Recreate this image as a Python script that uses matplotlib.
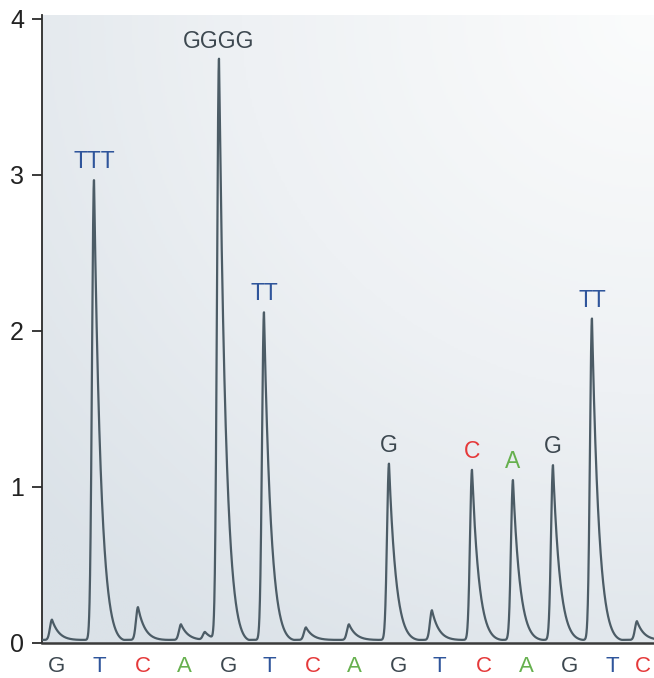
import numpy as np
import matplotlib
matplotlib.use("Agg")
import matplotlib.pyplot as plt
from matplotlib.colors import LinearSegmentedColormap

plt.rcParams['font.family'] = ['Liberation Sans', 'DejaVu Sans']

# ---- data ----
# dispensation order (x tick labels) and their times (arbitrary time units)
disp_letters = ["G", "T", "C", "A", "G", "T", "C", "A", "G", "T", "C", "A", "G", "T", "C"]
disp_times = [0.35, 1.34, 2.38, 3.34, 4.38, 5.36, 6.38, 7.34, 8.38, 9.36,
              10.40, 11.39, 12.42, 13.41, 14.14]

# peak times and peak signal heights
peak_times = [0.235, 1.224, 2.259, 3.271, 3.835, 4.165, 5.224, 6.212, 7.224,
              8.165, 9.176, 10.118, 11.082, 12.024, 12.941, 14.0]
peak_heights = [0.15, 2.97, 0.23, 0.12, 0.07, 3.74, 2.12, 0.10, 0.12,
                1.15, 0.21, 1.11, 1.045, 1.14, 2.08, 0.14]
baseline = 0.02

# peak annotations: (index into peaks, text)
annot_peaks = [1, 5, 6, 9, 11, 12, 13, 14]
annot_texts = ["TTT", "GGGG", "TT", "G", "C", "A", "G", "TT"]

base_colors = {"G": "#3d4850", "T": "#2f559b", "C": "#e5393a", "A": "#66b04e"}

# ---- figure ----
W, H = 654, 678
fig = plt.figure(figsize=(W / 100, H / 100), dpi=100)
px = 42.5  # pixels per time unit
left, right, top, bottom = 42, 654, 15, 643
ax = fig.add_axes([left / W, (H - bottom) / H, (right - left) / W, (bottom - top) / H])
xmax = (right - left) / px
ymax = (bottom - top) / 156.0
ax.set_xlim(0, xmax)
ax.set_ylim(0, ymax)

# background gradient (light at top-right, bluish-grey towards bottom-left)
gx, gy = np.meshgrid(np.linspace(0, 1, 300), np.linspace(0, 1, 300))
dist = np.sqrt((1 - gx) ** 2 * 0.8 + (1 - gy) ** 2 * 1.0) / np.sqrt(1.8)
cmap = LinearSegmentedColormap.from_list("bg", ["#fbfcfc", "#eef1f4", "#dbe2e8"])
ax.imshow(dist, origin="lower", extent=[0, xmax, 0, ymax], aspect="auto",
          cmap=cmap, vmin=0, vmax=0.9, zorder=0)

# trace built from peaks: steep rise, decaying tail
t = np.linspace(0, xmax, 6000)
y = np.full_like(t, baseline)
sig = 2.0 / px
tau = 10.0 / px
wid = 30.0 / px
for tp, h in zip(peak_times, peak_heights):
    s = t - tp
    rise = np.exp(-0.5 * (s / sig) ** 2)
    fall = np.exp(-np.clip(s, 0, None) / tau) * np.clip(1 - s / wid, 0, None) ** 1.3
    shape = np.where(s < 0, rise, fall)
    y += (h - baseline) * shape
ax.plot(t, y, color="#4c5c66", lw=1.6, zorder=3)

# annotations over peaks
for idx, txt in zip(annot_peaks, annot_texts):
    ax.annotate(txt, xy=(peak_times[idx], peak_heights[idx]), xytext=(0, 5),
                textcoords="offset points", ha="center", va="bottom",
                fontsize=16.5, color=base_colors[txt[0]], zorder=4)

# axes styling
for sp in ["top", "right"]:
    ax.spines[sp].set_visible(False)
ax.spines["left"].set_color("#2b2b2b")
ax.spines["left"].set_linewidth(1.3)
ax.spines["bottom"].set_color("#3a3a3a")
ax.spines["bottom"].set_linewidth(1.8)
ax.set_yticks([0, 1, 2, 3, 4])
ax.set_yticklabels(["0", "1", "2", "3", "4"])
ax.tick_params(axis="y", length=7, width=1.3, color="#2b2b2b", pad=6,
               labelsize=18, labelcolor="#222222")
ax.set_xticks(disp_times)
ax.set_xticklabels(disp_letters)
ax.tick_params(axis="x", length=0, pad=9, labelsize=16)
for lab, letter in zip(ax.get_xticklabels(), disp_letters):
    lab.set_color(base_colors[letter])

fig.savefig("out.png", dpi=100)
